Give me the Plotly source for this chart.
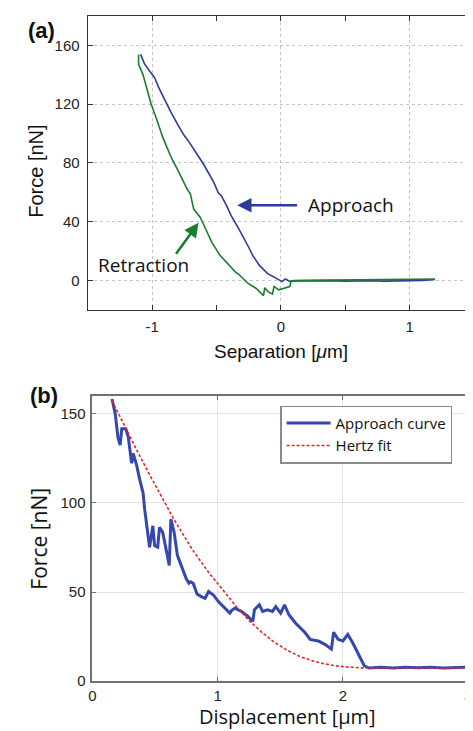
import plotly.graph_objects as go

# ---------------- Panel (a) data ----------------
sep_approach = [-1.089, -1.060, -1.021, -0.982, -0.950, -0.919, -0.885, -0.855, -0.805, -0.753,
                -0.715, -0.675, -0.639, -0.600, -0.563, -0.520, -0.486, -0.461, -0.420, -0.385,
                -0.330, -0.282, -0.250, -0.219, -0.168, -0.105, -0.060, -0.028, 0.010, 0.035,
                0.073, 0.10, 0.20, 0.30, 0.40, 0.50, 0.60, 0.70, 0.80, 0.90, 1.00, 1.10, 1.196]
force_approach = [153.8, 147.5, 142.7, 138.2, 131.5, 125.8, 120.0, 114.6, 106.7, 98.9,
                  94.4, 89.5, 84.3, 79.0, 73.1, 66.5, 59.6, 57.4, 50.5, 43.9,
                  35.5, 28.3, 22.5, 17.0, 10.3, 4.7, 2.6, 1.3, -0.9, 0.9,
                  -0.9, -0.4, -0.3, -0.5, -0.2, -0.6, -0.4, -0.3, -0.6, -0.5, -0.2, -0.1, 0.5]

sep_retract = [-1.105, -1.105, -1.072, -1.040, -1.008, -0.960, -0.919, -0.880, -0.843, -0.800,
               -0.766, -0.730, -0.702, -0.677, -0.640, -0.626, -0.600, -0.570, -0.537, -0.473,
               -0.420, -0.385, -0.345, -0.334, -0.308, -0.257, -0.194, -0.156, -0.135, -0.125,
               -0.100, -0.066, -0.053, -0.015, 0.035, 0.069, 0.079, 0.10, 0.20, 0.30, 0.40,
               0.50, 0.60, 0.70, 0.80, 0.90, 1.00, 1.10, 1.196]
force_retract = [153.8, 147.1, 140.4, 130.0, 120.2, 108.5, 97.8, 89.5, 82.1, 75.0,
                 68.6, 62.5, 58.5, 48.5, 44.5, 42.8, 38.0, 32.0, 26.0, 17.0,
                 12.0, 8.1, 5.0, 4.7, 2.4, -2.0, -5.4, -8.7, -10.4, -5.0,
                 -7.7, -9.4, -4.3, -6.5, -5.4, -4.3, -0.5, -0.2, 0.0, 0.1, 0.2,
                 0.1, 0.3, 0.4, 0.6, 0.4, 0.3, 0.5, 0.8]

# ---------------- Panel (b) data ----------------
disp_curve = [0.157, 0.183, 0.204, 0.222, 0.235, 0.267, 0.287, 0.314, 0.326, 0.340,
              0.353, 0.379, 0.405, 0.418, 0.444, 0.457, 0.483, 0.497, 0.522, 0.536,
              0.562, 0.588, 0.614, 0.627, 0.653, 0.679, 0.718, 0.750, 0.771, 0.785,
              0.805, 0.836, 0.870, 0.900, 0.928, 0.967, 1.006, 1.059, 1.098, 1.111,
              1.137, 1.189, 1.242, 1.281, 1.294, 1.333, 1.359, 1.398, 1.438, 1.464,
              1.503, 1.534, 1.569, 1.621, 1.673, 1.699, 1.738, 1.804, 1.856, 1.908,
              1.926, 1.961, 2.000, 2.039, 2.078, 2.118, 2.170, 2.209, 2.30, 2.40,
              2.50, 2.60, 2.70, 2.80, 2.90, 3.00]
force_curve = [158.3, 150.0, 137.0, 132.4, 141.7, 141.7, 137.0, 122.3, 127.8, 125.0,
               121.4, 113.0, 105.7, 96.4, 83.5, 75.2, 87.2, 76.1, 75.2, 86.3,
               83.5, 74.2, 65.0, 90.9, 83.5, 70.6, 63.2, 57.5, 55.0, 55.8,
               55.0, 49.0, 47.5, 46.5, 50.3, 48.4, 44.7, 41.0, 38.2, 39.6,
               41.0, 39.2, 36.4, 33.6, 40.1, 42.9, 39.2, 40.1, 39.2, 41.9,
               38.2, 42.9, 37.3, 32.7, 29.0, 27.2, 23.5, 22.6, 20.7, 18.0,
               27.5, 23.5, 22.6, 26.3, 21.6, 16.1, 8.7, 7.4, 7.8, 7.5,
               7.9, 7.6, 7.8, 7.4, 7.7, 7.9]

disp_fit = [0.157, 0.25, 0.35, 0.45, 0.536, 0.65, 0.797, 0.929, 1.05, 1.15,
            1.25, 1.35, 1.45, 1.55, 1.65, 1.75, 1.85, 1.95, 2.05, 2.15,
            2.30, 2.60, 3.00]
force_fit = [157.4, 144.2, 130.3, 116.8, 105.5, 91.0, 74.0, 61.0, 50.5, 41.8,
             34.2, 27.6, 22.0, 17.6, 14.1, 11.6, 9.8, 8.6, 7.9, 7.5,
             7.4, 7.4, 7.4]

# tick labels
xticks_a = [-1, 0, 1]
xticklabels_a = ["-1", "0", "1"]
yticks_a = [0, 40, 80, 120, 160]
xticks_b = [0, 1, 2, 3]
xticklabels_b = ["0", "1", "2", "3"]
yticks_b = [0, 50, 100, 150]

BLUE_A = "#2d3b9c"
GREEN_A = "#1b7d2f"
BLUE_B = "#3546ad"
RED_B = "#e3262b"
ARIAL = "Liberation Sans, Arial, sans-serif"
SANS = "Open Sans, sans-serif"

W, H = 473, 731

fig = go.Figure()
fig.add_trace(go.Scatter(x=sep_approach, y=force_approach, mode="lines",
                         line=dict(color=BLUE_A, width=1.6), showlegend=False,
                         xaxis="x", yaxis="y"))
fig.add_trace(go.Scatter(x=sep_retract, y=force_retract, mode="lines",
                         line=dict(color=GREEN_A, width=1.6), showlegend=False,
                         xaxis="x", yaxis="y"))
fig.add_trace(go.Scatter(x=disp_curve, y=force_curve, mode="lines",
                         name="Approach curve",
                         line=dict(color=BLUE_B, width=3), xaxis="x2", yaxis="y2"))
fig.add_trace(go.Scatter(x=disp_fit, y=force_fit, mode="lines", name="Hertz fit",
                         line=dict(color=RED_B, width=1.6, dash="3px,2px"),
                         xaxis="x2", yaxis="y2"))


def px_x(p):
    return p / W


def px_y(p):
    return 1 - p / H


axis_common_a = dict(showline=True, linecolor="#333333", linewidth=1.2, mirror="ticks",
                     ticks="inside", ticklen=5, tickcolor="#333333", zeroline=False,
                     showgrid=True, gridcolor="#c4c4c4", griddash="dot", gridwidth=1,
                     tickfont=dict(family=ARIAL, size=15, color="#222222"))
axis_common_b = dict(showline=True, linecolor="#707070", linewidth=1.6, mirror="ticks",
                     ticks="inside", ticklen=4, tickcolor="#707070", zeroline=False,
                     showgrid=True, gridcolor="#e3e3e3", gridwidth=1,
                     tickfont=dict(family=ARIAL, size=15, color="#222222"))

fig.update_layout(
    width=W, height=H,
    margin=dict(l=0, r=0, t=0, b=0),
    paper_bgcolor="white", plot_bgcolor="white",
    xaxis=dict(domain=[px_x(77), px_x(470)], range=[-1.5, 1.5], anchor="y",
               tickvals=xticks_a, ticktext=xticklabels_a,
               minor=dict(dtick=0.5, tick0=0, ticks="inside", ticklen=5, tickcolor="#333333",
                          showgrid=False),
               ticklabelstandoff=3, **axis_common_a),
    yaxis=dict(domain=[px_y(305), px_y(8)], range=[-20, 180], anchor="x",
               tickvals=yticks_a, ticklabelstandoff=4, **axis_common_a),
    xaxis2=dict(domain=[px_x(81.7), px_x(464.3)], range=[0, 3.002], anchor="y2",
                tickvals=xticks_b, ticktext=xticklabels_b, ticklabelstandoff=0,
                ticklabeloverflow="allow", **axis_common_b),
    yaxis2=dict(domain=[px_y(680.7), px_y(392.3)], range=[0, 160], anchor="x2",
                tickvals=yticks_b, ticklabelstandoff=2, **axis_common_b),
    legend=dict(x=px_x(273), y=px_y(402), xanchor="left", yanchor="top",
                bgcolor="white", bordercolor="#8a8a8a", borderwidth=1.2,
                font=dict(family=SANS, size=15, color="#111111"),
                itemwidth=44, tracegroupgap=0),
)

ann = []
# panel labels
ann.append(dict(text="<b>(a)</b>", x=px_x(14), y=px_y(23), xref="paper", yref="paper",
                xanchor="left", yanchor="middle", showarrow=False,
                font=dict(family=ARIAL, size=22, color="#111111")))
ann.append(dict(text="<b>(b)</b>", x=px_x(16), y=px_y(392), xref="paper", yref="paper",
                xanchor="left", yanchor="middle", showarrow=False,
                font=dict(family=ARIAL, size=22, color="#111111")))
# axis titles panel (a)
ann.append(dict(text="Separation [<i>μ</i>m]", x=px_x(273.5), y=px_y(347), xref="paper",
                yref="paper", xanchor="center", yanchor="middle", showarrow=False,
                font=dict(family=ARIAL, size=19, color="#111111")))
ann.append(dict(text="Force [nN]", x=px_x(25), y=px_y(165), xref="paper", yref="paper",
                xanchor="center", yanchor="middle", showarrow=False, textangle=-90,
                font=dict(family=ARIAL, size=20, color="#111111")))
# axis titles panel (b)
ann.append(dict(text="Displacement [μm]", x=px_x(280.5), y=px_y(716), xref="paper",
                yref="paper", xanchor="center", yanchor="middle", showarrow=False,
                font=dict(family=SANS, size=20, color="#111111")))
ann.append(dict(text="Force [nN]", x=px_x(27.5), y=px_y(536.5), xref="paper", yref="paper",
                xanchor="center", yanchor="middle", showarrow=False, textangle=-90,
                font=dict(family=SANS, size=21, color="#111111")))
# arrows + labels panel (a)
ann.append(dict(x=-0.339, y=51.1, ax=0.137, ay=51.1, xref="x", yref="y", axref="x", ayref="y",
                text="", showarrow=True, arrowhead=2, arrowsize=1.1, arrowwidth=2.6,
                arrowcolor=BLUE_A))
ann.append(dict(text="Approach", x=0.195, y=51.5, xref="x", yref="y", xanchor="left",
                yanchor="middle", showarrow=False,
                font=dict(family=SANS, size=19, color="#111111")))
ann.append(dict(x=-0.639, y=39.2, ax=-0.822, ay=17.0, xref="x", yref="y", axref="x", ayref="y",
                text="", showarrow=True, arrowhead=2, arrowsize=1.1, arrowwidth=2.6,
                arrowcolor=GREEN_A))
ann.append(dict(text="Retraction", x=-1.066, y=10.3, xref="x", yref="y", xanchor="center",
                yanchor="middle", showarrow=False,
                font=dict(family=SANS, size=19, color="#111111")))
fig.update_layout(annotations=ann)

fig.write_html("out.html")
